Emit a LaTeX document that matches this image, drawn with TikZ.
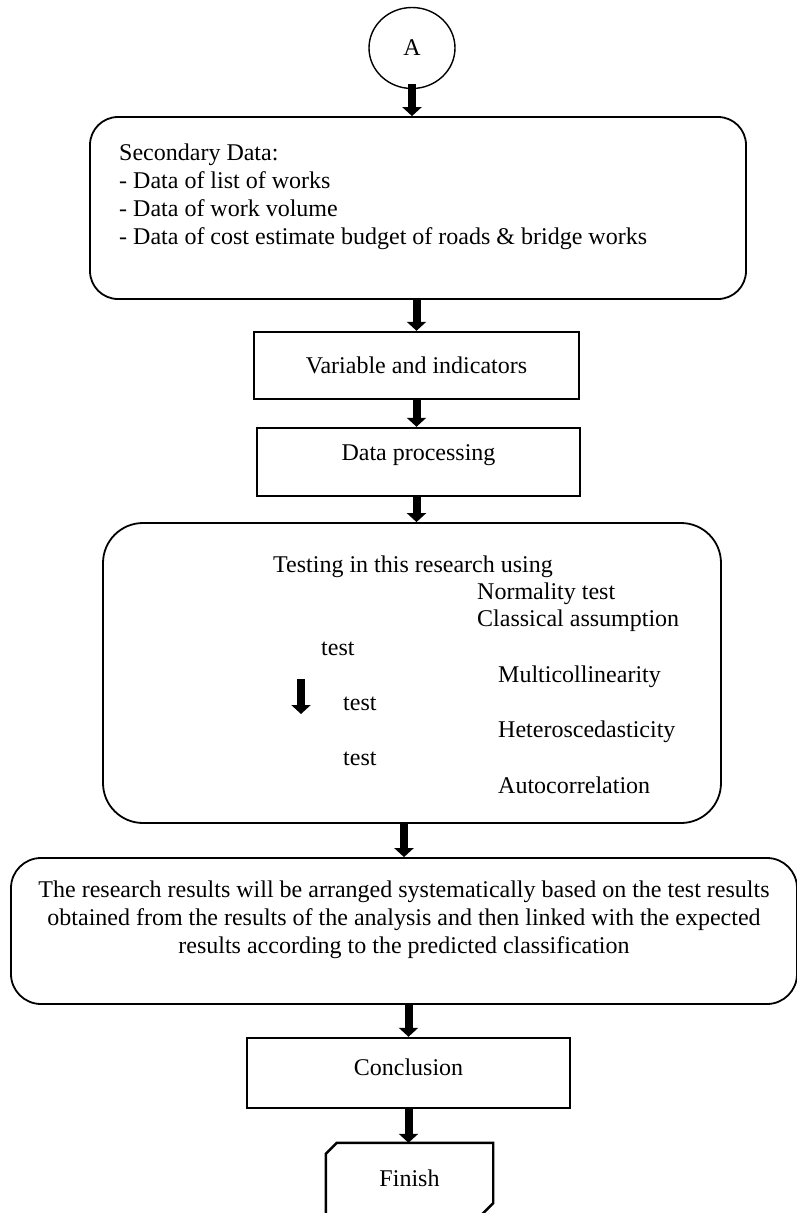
\documentclass[tikz,border=0pt]{standalone}
\usepackage{fontspec}
\setmainfont{Liberation Serif}
\usetikzlibrary{arrows.meta,shapes.geometric}
\newcommand{\flowfont}{\fontsize{24}{28}\selectfont}

\begin{document}
\begin{tikzpicture}[x=1pt,y=-1pt,
    every node/.style={font=\flowfont,inner sep=0pt},
    roundbox/.style={draw,line width=1.8pt,rounded corners=#1},
    roundbox/.default=28pt,
    plainbox/.style={draw,line width=2.4pt},
    flowarrow/.style={line width=8pt,-{Triangle[width=19pt,length=9pt]}}]

  \useasboundingbox (0,0) rectangle (796,1213);

  % start connector
  \node [draw,ellipse,line width=1.4pt,minimum width=86pt,minimum height=81pt] (circA) at (412,48) {A};

  % secondary data
  \node [roundbox,minimum width=656pt,minimum height=182pt] (secbox) at (418,208) {};
  \node [anchor=north west,align=left] (sectext) at (119,143.5)
    {Secondary Data:\\- Data of list of works\\- Data of work volume\\- Data of cost estimate budget of roads \& bridge works};

  \node [plainbox,minimum width=325pt,minimum height=67pt] (varbox) at (416.5,365.5) {Variable and indicators};
  \node [plainbox,minimum width=323pt,minimum height=68pt,
         label={[yshift=7pt]center:Data processing}] (procbox) at (418.5,462) {};

  % testing
  \node [roundbox=40pt,minimum width=618pt,minimum height=300pt] (testbox) at (412,673) {};
  \foreach \x/\y/\t [count=\i] in {273/572/Testing in this research using,
      477/599/Normality test, 477/626/Classical assumption, 321/655/test,
      498/682/Multicollinearity, 343/710/test, 498/737/Heteroscedasticity,
      343/765/test, 498/793/Autocorrelation}
    \node [anchor=base west] (testline\i) at (\x,\y) {\t};
  \coordinate (innertop) at (301,679);
  \coordinate (innerend) at (301,714);

  % results
  \node [roundbox=30pt,minimum width=786pt,minimum height=146pt,
         label={[align=center,yshift=11.5pt]center:The research results will be arranged systematically based on the test results\\obtained from the results of the analysis and then linked with the expected\\results according to the predicted classification}]
    (resbox) at (404,931) {};

  \node [plainbox,minimum width=323pt,minimum height=70pt,
         label={[yshift=6pt]center:Conclusion}] (conclbox) at (408.5,1073) {};

  \node [minimum width=167pt,minimum height=71pt] (finish) at (409.5,1178.5) {Finish};
  \draw [line width=2.4pt] ([yshift=-11pt]finish.north west) -- ([xshift=11pt]finish.north west)
    -- (finish.north east) -- ([yshift=11pt]finish.south east)
    -- ([xshift=-11pt]finish.south east) -- (finish.south west) -- cycle;

  % arrows
  \draw [flowarrow] ([yshift=5pt]circA.south) -- (circA.south |- secbox.north);
  \draw [flowarrow] (secbox.south -| varbox.north) -- (varbox.north);
  \draw [flowarrow] (varbox.south) -- (varbox.south |- procbox.north);
  \draw [flowarrow] (procbox.south -| varbox.south) -- (varbox.south |- testbox.north);
  \draw [flowarrow] (testbox.south -| resbox.north) -- (resbox.north);
  \draw [flowarrow] (resbox.south -| conclbox.north) -- (conclbox.north);
  \draw [flowarrow] (conclbox.south) -- (conclbox.south |- finish.north);
  \draw [flowarrow] (innertop) -- (innerend);

\end{tikzpicture}
\end{document}
